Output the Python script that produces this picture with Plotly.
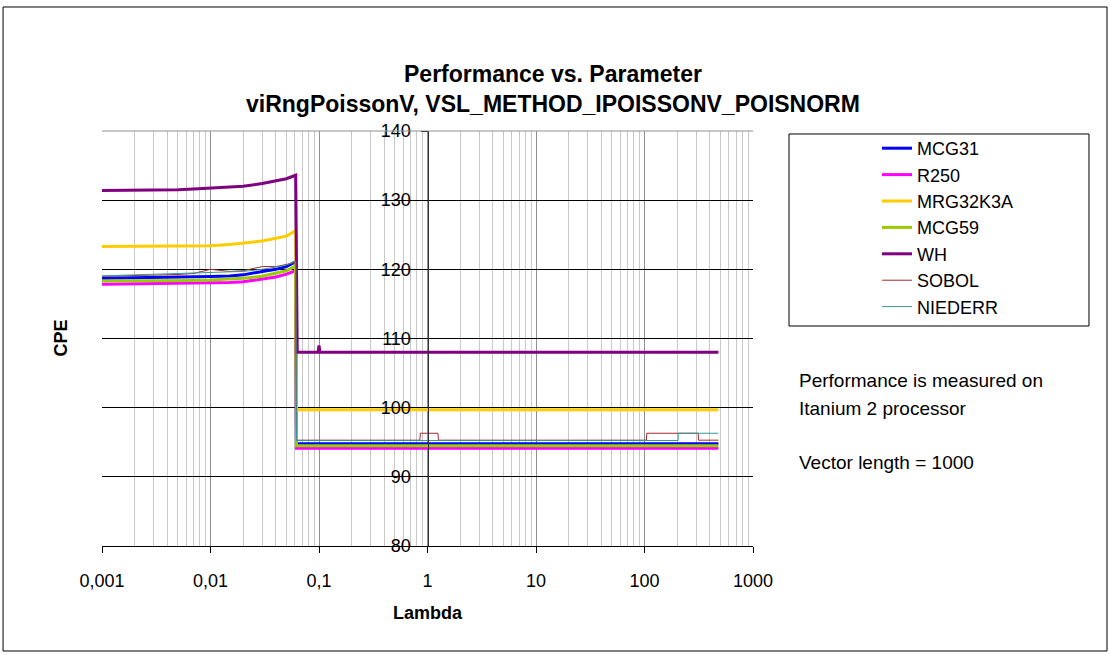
import plotly.graph_objects as go

# ---- data ----
LAMBDA = [0.001, 0.002, 0.003, 0.005, 0.007, 0.01, 0.015, 0.02, 0.03, 0.04,
          0.05, 0.061, 0.062, 0.063, 0.098, 0.1, 0.102, 0.85, 0.86, 1.25,
          1.26, 3.5, 10, 104, 105, 204, 205, 313, 314, 480]

MCG31 = [118.7, 118.75, 118.8, 118.85, 118.9, 118.95, 119.05, 119.2, 119.7, 120.0,
         120.4, 121.1, 94.8, 94.8, 94.8, 94.8, 94.8, 94.8, 94.8, 94.8,
         94.8, 94.8, 94.8, 94.8, 94.8, 94.8, 94.8, 94.8, 94.8, 94.8]
R250 = [117.85, 117.9, 117.9, 117.95, 118.0, 118.0, 118.1, 118.2, 118.55, 118.9,
        119.3, 119.8, 94.15, 94.15, 94.15, 94.15, 94.15, 94.15, 94.15, 94.15,
        94.15, 94.15, 94.15, 94.15, 94.15, 94.15, 94.15, 94.15, 94.15, 94.15]
MRG32K3A = [123.3, 123.3, 123.3, 123.35, 123.4, 123.4, 123.6, 123.8, 124.1, 124.5,
            124.8, 125.6, 99.7, 99.7, 99.7, 99.7, 99.7, 99.7, 99.7, 99.7,
            99.7, 99.7, 99.7, 99.7, 99.7, 99.7, 99.7, 99.7, 99.7, 99.7]
MCG59 = [118.3, 118.3, 118.35, 118.4, 118.4, 118.45, 118.55, 118.7, 119.0, 119.4,
         119.8, 120.5, 94.5, 94.5, 94.5, 94.5, 94.5, 94.5, 94.5, 94.5,
         94.5, 94.5, 94.5, 94.5, 94.5, 94.5, 94.5, 94.5, 94.5, 94.5]
WH = [131.4, 131.4, 131.4, 131.5, 131.6, 131.7, 131.9, 132.0, 132.4, 132.8,
      133.1, 133.6, 118.5, 108.0, 108.0, 109.0, 108.0, 108.0, 108.0, 108.0,
      108.0, 108.0, 108.0, 108.0, 108.0, 108.0, 108.0, 108.0, 108.0, 108.0]
SOBOL = [119.0, 119.1, 119.15, 119.25, 119.4, 120.0, 119.7, 119.8, 120.4, 120.4,
         120.7, 121.0, 95.3, 95.3, 95.3, 95.3, 95.3, 95.3, 96.3, 96.3,
         95.3, 95.3, 95.3, 95.3, 96.3, 96.3, 96.3, 96.3, 95.3, 95.3]
NIEDERR = [119.05, 119.2, 119.2, 119.3, 119.4, 119.5, 119.6, 119.7, 120.0, 120.4,
           120.6, 121.2, 95.25, 95.25, 95.25, 95.25, 95.25, 95.25, 95.25, 95.25,
           95.25, 95.25, 95.25, 95.25, 95.25, 95.25, 96.3, 96.3, 96.3, 96.3]

SERIES_NAMES = ["MCG31", "R250", "MRG32K3A", "MCG59", "WH", "SOBOL", "NIEDERR"]
SERIES_VALUES = [MCG31, R250, MRG32K3A, MCG59, WH, SOBOL, NIEDERR]

X_TICKVALS = [0.001, 0.01, 0.1, 1, 10, 100, 1000]
X_TICKTEXT = ["0,001", "0,01", "0,1", "1", "10", "100", "1000"]
Y_TICKVALS = [80, 90, 100, 110, 120, 130, 140]

# ---- styles ----
COLORS = ["#0000FF", "#FF00FF", "#FFCC00", "#99CC00", "#800080", "#A52A2A", "#339999"]
WIDTHS = [3, 3, 3, 3, 3, 1, 1]
FONT = "Liberation Sans, Arial, sans-serif"

fig = go.Figure()
for name, vals, col, w in zip(SERIES_NAMES, SERIES_VALUES, COLORS, WIDTHS):
    fig.add_trace(go.Scatter(x=LAMBDA, y=vals, mode="lines", name=name,
                             line=dict(color=col, width=w)))

fig.update_layout(
    width=1110, height=655,
    template="none",
    paper_bgcolor="white", plot_bgcolor="white",
    margin=dict(l=102, r=357, t=131, b=109, pad=0),
    font=dict(family=FONT, size=18, color="black"),
    showlegend=True,
    legend=dict(x=1.1905, y=1.0024, xanchor="left", yanchor="top",
                bgcolor="rgba(0,0,0,0)", borderwidth=0,
                font=dict(family=FONT, size=18, color="black")),
    xaxis=dict(type="log", range=[-3, 3], tickmode="array",
               tickvals=X_TICKVALS, ticktext=X_TICKTEXT,
               showgrid=True, gridcolor="#909090", gridwidth=1,
               minor=dict(dtick="D1", showgrid=True, gridcolor="#C8C8C8", gridwidth=1, ticks=""),
               showline=True, linecolor="black", linewidth=1,
               ticks="outside", ticklen=6, tickcolor="black",
               ticklabelstandoff=12,
               tickfont=dict(family=FONT, size=18, color="black"),
               zeroline=False, automargin=False, anchor="y"),
    yaxis=dict(range=[80, 140], tickmode="array", tickvals=Y_TICKVALS,
               showgrid=True, gridcolor="black", gridwidth=1,
               anchor="free", position=0.5,
               showline=True, linecolor="#303030", linewidth=1,
               ticks="outside", ticklen=7, tickcolor="black",
               ticklabelstandoff=6,
               tickfont=dict(family=FONT, size=18, color="black"),
               zeroline=False, automargin=False),
    shapes=[
        # gray top edge of plot area
        dict(type="line", xref="paper", yref="paper", x0=0, x1=1, y0=1, y1=1,
             line=dict(color="#909090", width=1), layer="above"),
        # legend frame
        dict(type="rect", xref="paper", yref="paper", x0=1.0553, x1=1.5161,
             y0=0.5301, y1=0.9928, line=dict(color="black", width=1),
             fillcolor="rgba(0,0,0,0)", layer="below"),
        # outer chart frame
        dict(type="rect", xref="paper", yref="paper", x0=-0.152, x1=1.5438,
             y0=-0.253, y1=1.2988, line=dict(color="black", width=1),
             fillcolor="rgba(0,0,0,0)", layer="below"),
    ],
    annotations=[
        dict(text="<b>Performance vs. Parameter<br>viRngPoissonV, VSL_METHOD_IPOISSONV_POISNORM</b>",
             xref="paper", yref="paper", x=0.6928, y=1.1, xanchor="center", yanchor="middle",
             showarrow=False, font=dict(family=FONT, size=23, color="black")),
        dict(text="<b>CPE</b>", xref="paper", yref="paper", x=-0.0645, y=0.5,
             xanchor="center", yanchor="middle", textangle=-90, showarrow=False,
             font=dict(family=FONT, size=18, color="black")),
        dict(text="<b>Lambda</b>", xref="paper", yref="paper", x=0.5, y=-0.1614,
             xanchor="center", yanchor="middle", showarrow=False,
             font=dict(family=FONT, size=18, color="black")),
        dict(text="Performance is measured on", xref="paper", yref="paper", x=1.0676, y=0.3976,
             xanchor="left", yanchor="middle", showarrow=False,
             font=dict(family=FONT, size=19, color="black")),
        dict(text="Itanium 2 processor", xref="paper", yref="paper", x=1.0676, y=0.3325,
             xanchor="left", yanchor="middle", showarrow=False,
             font=dict(family=FONT, size=19, color="black")),
        dict(text="Vector length = 1000", xref="paper", yref="paper", x=1.0676, y=0.2024,
             xanchor="left", yanchor="middle", showarrow=False,
             font=dict(family=FONT, size=19, color="black")),
    ],
)

fig.write_html("out.html", config={"displayModeBar": False},
               post_script="document.body.style.margin='0px';")
